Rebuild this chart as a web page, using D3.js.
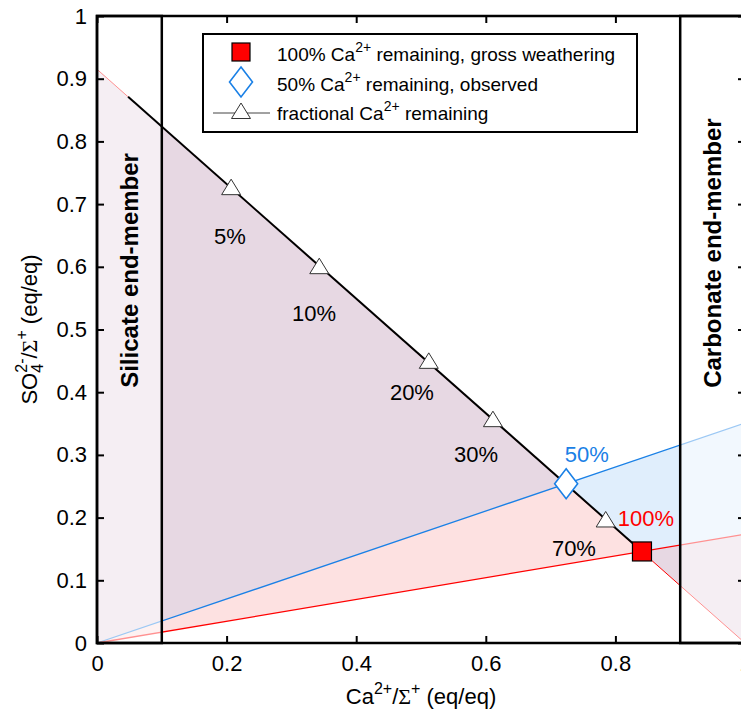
<!DOCTYPE html>
<html>
<head>
<meta charset="utf-8">
<script src="https://cdn.jsdelivr.net/npm/d3@7"></script>
<style>
  html, body { margin: 0; padding: 0; background: #fff; }
  svg { display: block; font-family: "Liberation Sans", Arial, Helvetica, sans-serif; }
</style>
</head>
<body>
<svg id="chart" width="741" height="718"></svg>
<script>
// Mixing line between end-members (Ca/Σ+, SO4/Σ+)
const mixingEnds = [[0, 0.915], [1, 0]];
const mixingBlackStart = 0.048;

// 100% Ca remaining (gross weathering) and 50% Ca remaining (observed)
const grossPoint = [0.841, 0.146];
const observedPoint = [0.724, 0.254];

// Fractional Ca remaining markers along the mixing line
const fracLabels = ['5%', '10%', '20%', '30%', '70%'];
const fracX = [0.207, 0.343, 0.512, 0.611, 0.785];
const fracY = [0.727, 0.601, 0.450, 0.357, 0.197];
const fracLabelX = [0.205, 0.335, 0.486, 0.585, 0.736];
const fracLabelY = [0.648, 0.526, 0.399, 0.300, 0.150];

// End-member ranges of Ca/Σ+
const endMemberNames = ['Silicate end-member', 'Carbonate end-member'];
const endMemberX0 = [0, 0.9];
const endMemberX1 = [0.1, 1];

const xTicks = [0, 0.2, 0.4, 0.6, 0.8, 1];
const yTicks = [0, 0.1, 0.2, 0.3, 0.4, 0.5, 0.6, 0.7, 0.8, 0.9, 1];

const blue = '#1a80e6';
const red = '#ff0000';

const svg = d3.select('#chart');

// Scales (right edge of the axes falls just outside the window)
const x = d3.scaleLinear().domain([0, 1]).range([97, 745]);
const y = d3.scaleLinear().domain([0, 1]).range([643, 16]);
const fmt = d3.format('~g');

const line = d3.line().x(d => x(d[0])).y(d => y(d[1]));
const mixY = d3.scaleLinear()
  .domain([mixingEnds[0][0], mixingEnds[1][0]])
  .range([mixingEnds[0][1], mixingEnds[1][1]]);

const kRed = grossPoint[1] / grossPoint[0];
const kBlue = observedPoint[1] / observedPoint[0];
const top0 = mixingEnds[0];
const bot1 = mixingEnds[1];

// Shaded cones between the rays and the mixing line
const fills = [
  { pts: [[0, 0], top0, grossPoint], color: '#fde1e1' },
  { pts: [[0, 0], top0, observedPoint], color: '#e7d8e3' },
  { pts: [observedPoint, [1, kBlue], bot1], color: '#e0eefc' },
  { pts: [grossPoint, [1, kRed], bot1], color: '#e7d8e3' }
];

svg.append('g')
  .selectAll('path')
  .data(fills)
  .join('path')
  .attr('d', d => line(d.pts) + 'Z')
  .attr('fill', d => d.color);

// Thin coloured lines
svg.append('path')
  .attr('d', line(mixingEnds))
  .attr('fill', 'none')
  .attr('stroke', red)
  .attr('stroke-width', 1);

svg.append('path')
  .attr('d', line([[0, 0], [1, kBlue]]))
  .attr('fill', 'none')
  .attr('stroke', blue)
  .attr('stroke-width', 1.3);

svg.append('path')
  .attr('d', line([[0, 0], [1, kRed]]))
  .attr('fill', 'none')
  .attr('stroke', red)
  .attr('stroke-width', 1.3);

// End-member boxes wash out what is under them
const boxes = svg.append('g');
endMemberNames.forEach((name, i) => {
  boxes.append('rect')
    .attr('x', x(endMemberX0[i]))
    .attr('y', y(1))
    .attr('width', x(endMemberX1[i]) - x(endMemberX0[i]))
    .attr('height', y(0) - y(1))
    .attr('fill', '#fff')
    .attr('fill-opacity', 0.57)
    .attr('stroke', '#000')
    .attr('stroke-width', 2.5);

  const cx = x((endMemberX0[i] + endMemberX1[i]) / 2);
  boxes.append('text')
    .attr('transform', `translate(${cx},${y(0.407)}) rotate(-90)`)
    .attr('dominant-baseline', 'central')
    .attr('font-size', 24)
    .attr('font-weight', 'bold')
    .text(name);
});

// Black mixing line, from start to gross weathering point
svg.append('path')
  .attr('d', line([[mixingBlackStart, mixY(mixingBlackStart)], grossPoint]))
  .attr('fill', 'none')
  .attr('stroke', '#000')
  .attr('stroke-width', 2);

// Triangle markers
const triPath = 'M0,-8L9.5,7.5L-9.5,7.5Z';
svg.append('g')
  .selectAll('path')
  .data(fracX)
  .join('path')
  .attr('transform', (d, i) => `translate(${x(d)},${y(fracY[i])})`)
  .attr('d', triPath)
  .attr('fill', '#fff')
  .attr('stroke', '#333')
  .attr('stroke-width', 1);

svg.append('g')
  .selectAll('text')
  .data(fracLabels)
  .join('text')
  .attr('x', (d, i) => x(fracLabelX[i]))
  .attr('y', (d, i) => y(fracLabelY[i]))
  .attr('text-anchor', 'middle')
  .attr('dominant-baseline', 'central')
  .attr('font-size', 22)
  .text(d => d);

// Observed (diamond) and gross (square) markers
const diamondPath = 'M0,-15L11.5,0L0,15L-11.5,0Z';
svg.append('path')
  .attr('transform', `translate(${x(observedPoint[0])},${y(observedPoint[1])})`)
  .attr('d', diamondPath)
  .attr('fill', '#fff')
  .attr('stroke', blue)
  .attr('stroke-width', 1.6);

svg.append('rect')
  .attr('x', x(grossPoint[0]) - 9.5)
  .attr('y', y(grossPoint[1]) - 9.5)
  .attr('width', 19)
  .attr('height', 19)
  .attr('fill', red)
  .attr('stroke', '#000')
  .attr('stroke-width', 1.2);

svg.append('text')
  .attr('x', x(0.756)).attr('y', y(0.300))
  .attr('text-anchor', 'middle')
  .attr('dominant-baseline', 'central')
  .attr('font-size', 22)
  .attr('fill', blue)
  .text('50%');

svg.append('text')
  .attr('x', x(0.847)).attr('y', y(0.199))
  .attr('text-anchor', 'middle')
  .attr('dominant-baseline', 'central')
  .attr('font-size', 22)
  .attr('fill', red)
  .text('100%');

// Axes with inward ticks on all four sides
function styleAxis(g, size) {
  g.attr('font-size', size)
    .attr('font-family', '"Liberation Sans", Arial, Helvetica, sans-serif');
  g.select('.domain').remove();
  g.selectAll('.tick line').attr('stroke-width', 2);
  g.selectAll('.tick text').attr('fill', '#000');
}

svg.append('g')
  .attr('transform', `translate(0,${y(0)})`)
  .call(d3.axisBottom(x).tickValues(xTicks).tickFormat(fmt).tickSizeInner(-7).tickSizeOuter(0).tickPadding(12))
  .call(g => styleAxis(g, 22));

svg.append('g')
  .attr('transform', `translate(${x(0)},0)`)
  .call(d3.axisLeft(y).tickValues(yTicks).tickFormat(fmt).tickSizeInner(-7).tickSizeOuter(0).tickPadding(10))
  .call(g => styleAxis(g, 22));

svg.append('g')
  .attr('transform', `translate(0,${y(1)})`)
  .call(d3.axisTop(x).tickValues(xTicks).tickFormat('').tickSizeInner(-7).tickSizeOuter(0))
  .call(g => styleAxis(g, 22));

svg.append('g')
  .attr('transform', `translate(${x(1)},0)`)
  .call(d3.axisRight(y).tickValues(yTicks).tickFormat('').tickSizeInner(-7).tickSizeOuter(0))
  .call(g => styleAxis(g, 22));

svg.append('rect')
  .attr('x', x(0)).attr('y', y(1))
  .attr('width', x(1) - x(0)).attr('height', y(0) - y(1))
  .attr('fill', 'none')
  .attr('stroke', '#000')
  .attr('stroke-width', 2.5);

// Text with super/subscripts: parts of {t, sup, sub, serif, stack}
function rich(text, parts, size) {
  const small = Math.round(size * 0.72);
  let shift = 0;
  let prev = null;
  parts.forEach(p => {
    const ts = text.append('tspan').text(p.t);
    let target = 0;
    if (p.sup) target = -size * 0.45;
    if (p.sub) target = size * 0.27;
    ts.attr('dy', target - shift);
    shift = target;
    if (p.sup || p.sub) ts.attr('font-size', small);
    if (p.serif) ts.attr('font-family', '"Liberation Serif", "Times New Roman", serif');
    if (p.stack && prev) ts.attr('dx', -prev.node().getComputedTextLength());
    prev = ts;
  });
}

const xLabel = svg.append('text')
  .attr('x', x(0.5)).attr('y', 704)
  .attr('text-anchor', 'middle')
  .attr('font-size', 22);
rich(xLabel, [
  { t: 'Ca' }, { t: '2+', sup: true }, { t: '/' }, { t: 'Σ', serif: true },
  { t: '+', sup: true }, { t: ' (eq/eq)' }
], 22);

const yLabel = svg.append('text')
  .attr('transform', `translate(37,${y(0.5)}) rotate(-90)`)
  .attr('text-anchor', 'middle')
  .attr('font-size', 22);
rich(yLabel, [
  { t: 'SO' }, { t: '4', sub: true }, { t: '2-', sup: true, stack: true }, { t: '/' },
  { t: 'Σ', serif: true }, { t: '+', sup: true }, { t: ' (eq/eq)' }
], 22);

// Legend
const legend = svg.append('g');
legend.append('rect')
  .attr('x', 203).attr('y', 34)
  .attr('width', 434).attr('height', 98)
  .attr('fill', '#fff')
  .attr('stroke', '#000')
  .attr('stroke-width', 2);

const legendRows = [52, 82, 111];
const legendMarkerX = 241;

legend.append('rect')
  .attr('x', legendMarkerX - 9).attr('y', legendRows[0] - 9)
  .attr('width', 18).attr('height', 18)
  .attr('fill', red).attr('stroke', '#000').attr('stroke-width', 1.2);

legend.append('path')
  .attr('transform', `translate(${legendMarkerX},${legendRows[1]})`)
  .attr('d', diamondPath)
  .attr('fill', '#fff').attr('stroke', blue).attr('stroke-width', 1.6);

legend.append('line')
  .attr('x1', 213).attr('x2', 270)
  .attr('y1', legendRows[2] + 2).attr('y2', legendRows[2] + 2)
  .attr('stroke', '#444').attr('stroke-width', 1);

legend.append('path')
  .attr('transform', `translate(${legendMarkerX},${legendRows[2]})`)
  .attr('d', triPath)
  .attr('fill', '#fff').attr('stroke', '#333').attr('stroke-width', 1);

const legendTexts = [
  [{ t: '100% Ca' }, { t: '2+', sup: true }, { t: ' remaining, gross weathering' }],
  [{ t: '50% Ca' }, { t: '2+', sup: true }, { t: ' remaining, observed' }],
  [{ t: 'fractional Ca' }, { t: '2+', sup: true }, { t: ' remaining' }]
];
legendTexts.forEach((parts, i) => {
  const t = legend.append('text')
    .attr('x', 277).attr('y', legendRows[i] + 9)
    .attr('font-size', 19);
  rich(t, parts, 19);
});
</script>
</body>
</html>
